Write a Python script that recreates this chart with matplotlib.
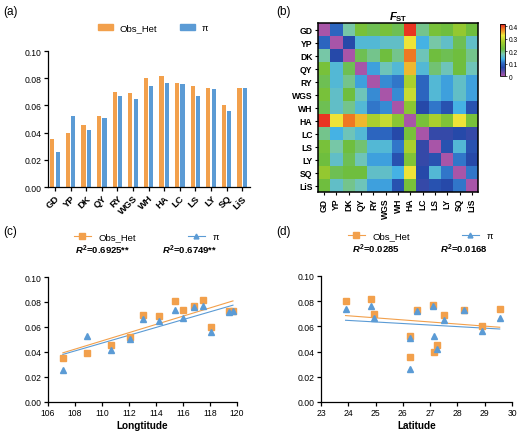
import numpy as np
import matplotlib
matplotlib.use("Agg")
import matplotlib.pyplot as plt
from matplotlib.colors import LinearSegmentedColormap
from matplotlib.lines import Line2D
from matplotlib.patches import Patch

plt.rcParams['font.family'] = ['Liberation Sans', 'DejaVu Sans']
plt.rcParams['mathtext.fontset'] = 'custom'
plt.rcParams['mathtext.it'] = 'Liberation Sans:bold:italic'
plt.rcParams['mathtext.rm'] = 'Liberation Sans:bold'
plt.rcParams['mathtext.bf'] = 'Liberation Sans:bold'

# data
pops = ['GD', 'YP', 'DK', 'QY', 'RY', 'WGS', 'WH', 'HA', 'LC', 'LS', 'LY', 'SQ', 'LiS']
obs_het = [0.0355, 0.0395, 0.0455, 0.052, 0.070, 0.0688, 0.0805, 0.0815, 0.0768, 0.074, 0.073, 0.060, 0.0728]
pi_vals = [0.026, 0.0525, 0.042, 0.0508, 0.0668, 0.0648, 0.074, 0.0765, 0.0758, 0.067, 0.072, 0.056, 0.0728]
longitude = [107.1, 108.9, 110.7, 112.1, 113.05, 114.25, 115.4, 117.45, 116.85, 116.0, 119.4, 118.05, 119.7]
latitude = [26.25, 27.15, 27.25, 26.25, 24.95, 27.5, 23.9, 24.85, 27.1, 29.55, 26.5, 28.9, 28.25]
r2_lon = ['0.6925**', '0.6749**']
r2_lat = ['0.0285', '0.0168']

# pairwise Fst, upper triangle (row i vs pops i+1..)
fst_upper = [
    [0.10, 0.18, 0.23, 0.21, 0.23, 0.21, 0.41, 0.19, 0.23, 0.22, 0.26, 0.22],
    [0.07, 0.15, 0.15, 0.16, 0.16, 0.33, 0.14, 0.18, 0.16, 0.21, 0.16],
    [0.21, 0.19, 0.22, 0.19, 0.38, 0.17, 0.22, 0.21, 0.22, 0.19],
    [0.13, 0.17, 0.15, 0.35, 0.15, 0.20, 0.17, 0.22, 0.17],
    [0.12, 0.11, 0.28, 0.10, 0.15, 0.13, 0.16, 0.13],
    [0.12, 0.30, 0.10, 0.15, 0.13, 0.16, 0.13],
    [0.25, 0.07, 0.11, 0.08, 0.14, 0.08],
    [0.23, 0.28, 0.24, 0.33, 0.23],
    [0.06, 0.06, 0.07, 0.06],
    [0.08, 0.15, 0.08],
    [0.11, 0.07],
    [0.11],
]

n = len(pops)
fst = np.zeros((n, n))
for i, row in enumerate(fst_upper):
    for k, v in enumerate(row):
        fst[i, i + 1 + k] = v
        fst[i + 1 + k, i] = v

ORANGE = '#F2A04C'
BLUE = '#5B9BD5'

W, H = 520, 435
fig = plt.figure(figsize=(W / 100, H / 100), dpi=100)


def rect(l, t, r, b):
    return [l / W, 1 - b / H, (r - l) / W, (b - t) / H]


def style(ax):
    for s in ['top', 'right']:
        ax.spines[s].set_visible(False)
    for s in ['left', 'bottom']:
        ax.spines[s].set_linewidth(0.9)
    ax.tick_params(length=3, width=0.9, labelsize=6.2, pad=1.5)


# (a) bars
ax = fig.add_axes(rect(48, 52, 250, 188))
x = np.arange(n)
ax.bar(x - 0.17, obs_het, width=0.27, color=ORANGE)
ax.bar(x + 0.17, pi_vals, width=0.27, color=BLUE)
ax.set_xlim(-0.45, n - 0.5)
ax.set_ylim(0, 0.10)
ax.set_yticks(np.arange(0, 0.101, 0.02))
ax.yaxis.set_major_formatter(lambda v, p: f'{v:.2f}')
ax.set_xticks(x)
style(ax)
ax.set_xticklabels(pops, rotation=45, ha='right', rotation_mode='anchor',
                   fontweight='bold', fontsize=6.8)
ax.legend(handles=[Patch(color=ORANGE, label='Obs_Het'), Patch(color=BLUE, label='π')],
          loc='center', bbox_to_anchor=(0.52, 1.17), ncol=2, frameon=False,
          fontsize=6.8, handlelength=1.5, handleheight=0.55, columnspacing=2.5,
          handletextpad=0.7)

# (b) heatmap
cmap = LinearSegmentedColormap.from_list('fst', [
    (0.0, '#A855A8'), (0.16, '#2648A8'), (0.25, '#2E6BC4'), (0.33, '#44B2E6'),
    (0.42, '#78C8B0'), (0.52, '#6DBE3F'), (0.65, '#A0CC2C'), (0.78, '#EEEB3A'),
    (0.9, '#F07E22'), (1.0, '#E81E22')])
axb = fig.add_axes(rect(318, 24, 478, 193))
im = axb.imshow(fst, cmap=cmap, vmin=0, vmax=0.42, aspect='auto', interpolation='nearest')
axb.set_xticks(range(n))
axb.set_yticks(range(n))
axb.set_xticklabels(pops, rotation=90, fontweight='bold', fontsize=6.2)
axb.set_yticklabels(pops, fontweight='bold', fontsize=6.2)
axb.tick_params(length=2.5, width=0.8, pad=1.5)
for s in axb.spines.values():
    s.set_linewidth(1.1)
axb.set_title(r'$F_{\rm ST}$', fontsize=8, pad=3)
cax = fig.add_axes(rect(500, 25, 505, 77))
cb = fig.colorbar(im, cax=cax, ticks=[0, 0.1, 0.2, 0.3, 0.4])
cb.ax.set_yticklabels(['0', '0.1', '0.2', '0.3', '0.4'])
cb.ax.tick_params(labelsize=4.8, length=1.5, width=0.5, pad=1)
cb.outline.set_linewidth(0.6)


# (c), (d) scatter + regression
def scatter_panel(r, xs, xlim, xticks, xlabel, r2):
    ax = fig.add_axes(r)
    xs = np.array(xs)
    for ys, c, m, ms in [(obs_het, ORANGE, 's', 4.4), (pi_vals, BLUE, '^', 3.8)]:
        ax.plot(xs, ys, ls='none', marker=m, ms=ms, color=c, zorder=3)
        k, b = np.polyfit(xs, ys, 1)
        xx = np.array([xs.min(), xs.max()])
        ax.plot(xx, k * xx + b, color=c, lw=0.8, zorder=2)
    ax.set_xlim(*xlim)
    ax.set_xticks(xticks)
    ax.set_ylim(0, 0.10)
    ax.set_yticks(np.arange(0, 0.101, 0.02))
    ax.yaxis.set_major_formatter(lambda v, p: f'{v:.2f}')
    ax.set_xlabel(xlabel, fontweight='bold', fontsize=7.2, labelpad=2)
    style(ax)
    h1 = Line2D([], [], color=ORANGE, lw=0.8, marker='s', ms=4.0, label='Obs_Het')
    h2 = Line2D([], [], color=BLUE, lw=0.8, marker='^', ms=3.5, label='π')
    ax.legend(handles=[h1, h2], loc='center', bbox_to_anchor=(0.52, 1.32), ncol=2,
              frameon=False, fontsize=6.8, handlelength=1.8, columnspacing=5.5,
              handletextpad=0.8)
    pos = ax.get_position()
    fig.text(pos.x0 + pos.width * 0.29, pos.y1 + 0.055, f'$R^2$={r2[0]}',
             ha='center', fontsize=6.8, fontweight='bold')
    fig.text(pos.x0 + pos.width * 0.75, pos.y1 + 0.055, f'$R^2$={r2[1]}',
             ha='center', fontsize=6.8, fontweight='bold')
    return ax


scatter_panel(rect(48, 278, 237, 403), longitude, (106, 120), range(106, 121, 2),
              'Longtitude', r2_lon)
scatter_panel(rect(321, 277, 512, 403), latitude, (23, 30), range(23, 31),
              'Latitude', r2_lat)

for lab, px, py in [('(a)', 3, 12), ('(b)', 276, 12), ('(c)', 3, 232), ('(d)', 276, 232)]:
    fig.text(px / W, 1 - py / H, lab, fontsize=8.5, va='center')

fig.savefig('out.png', dpi=100)
